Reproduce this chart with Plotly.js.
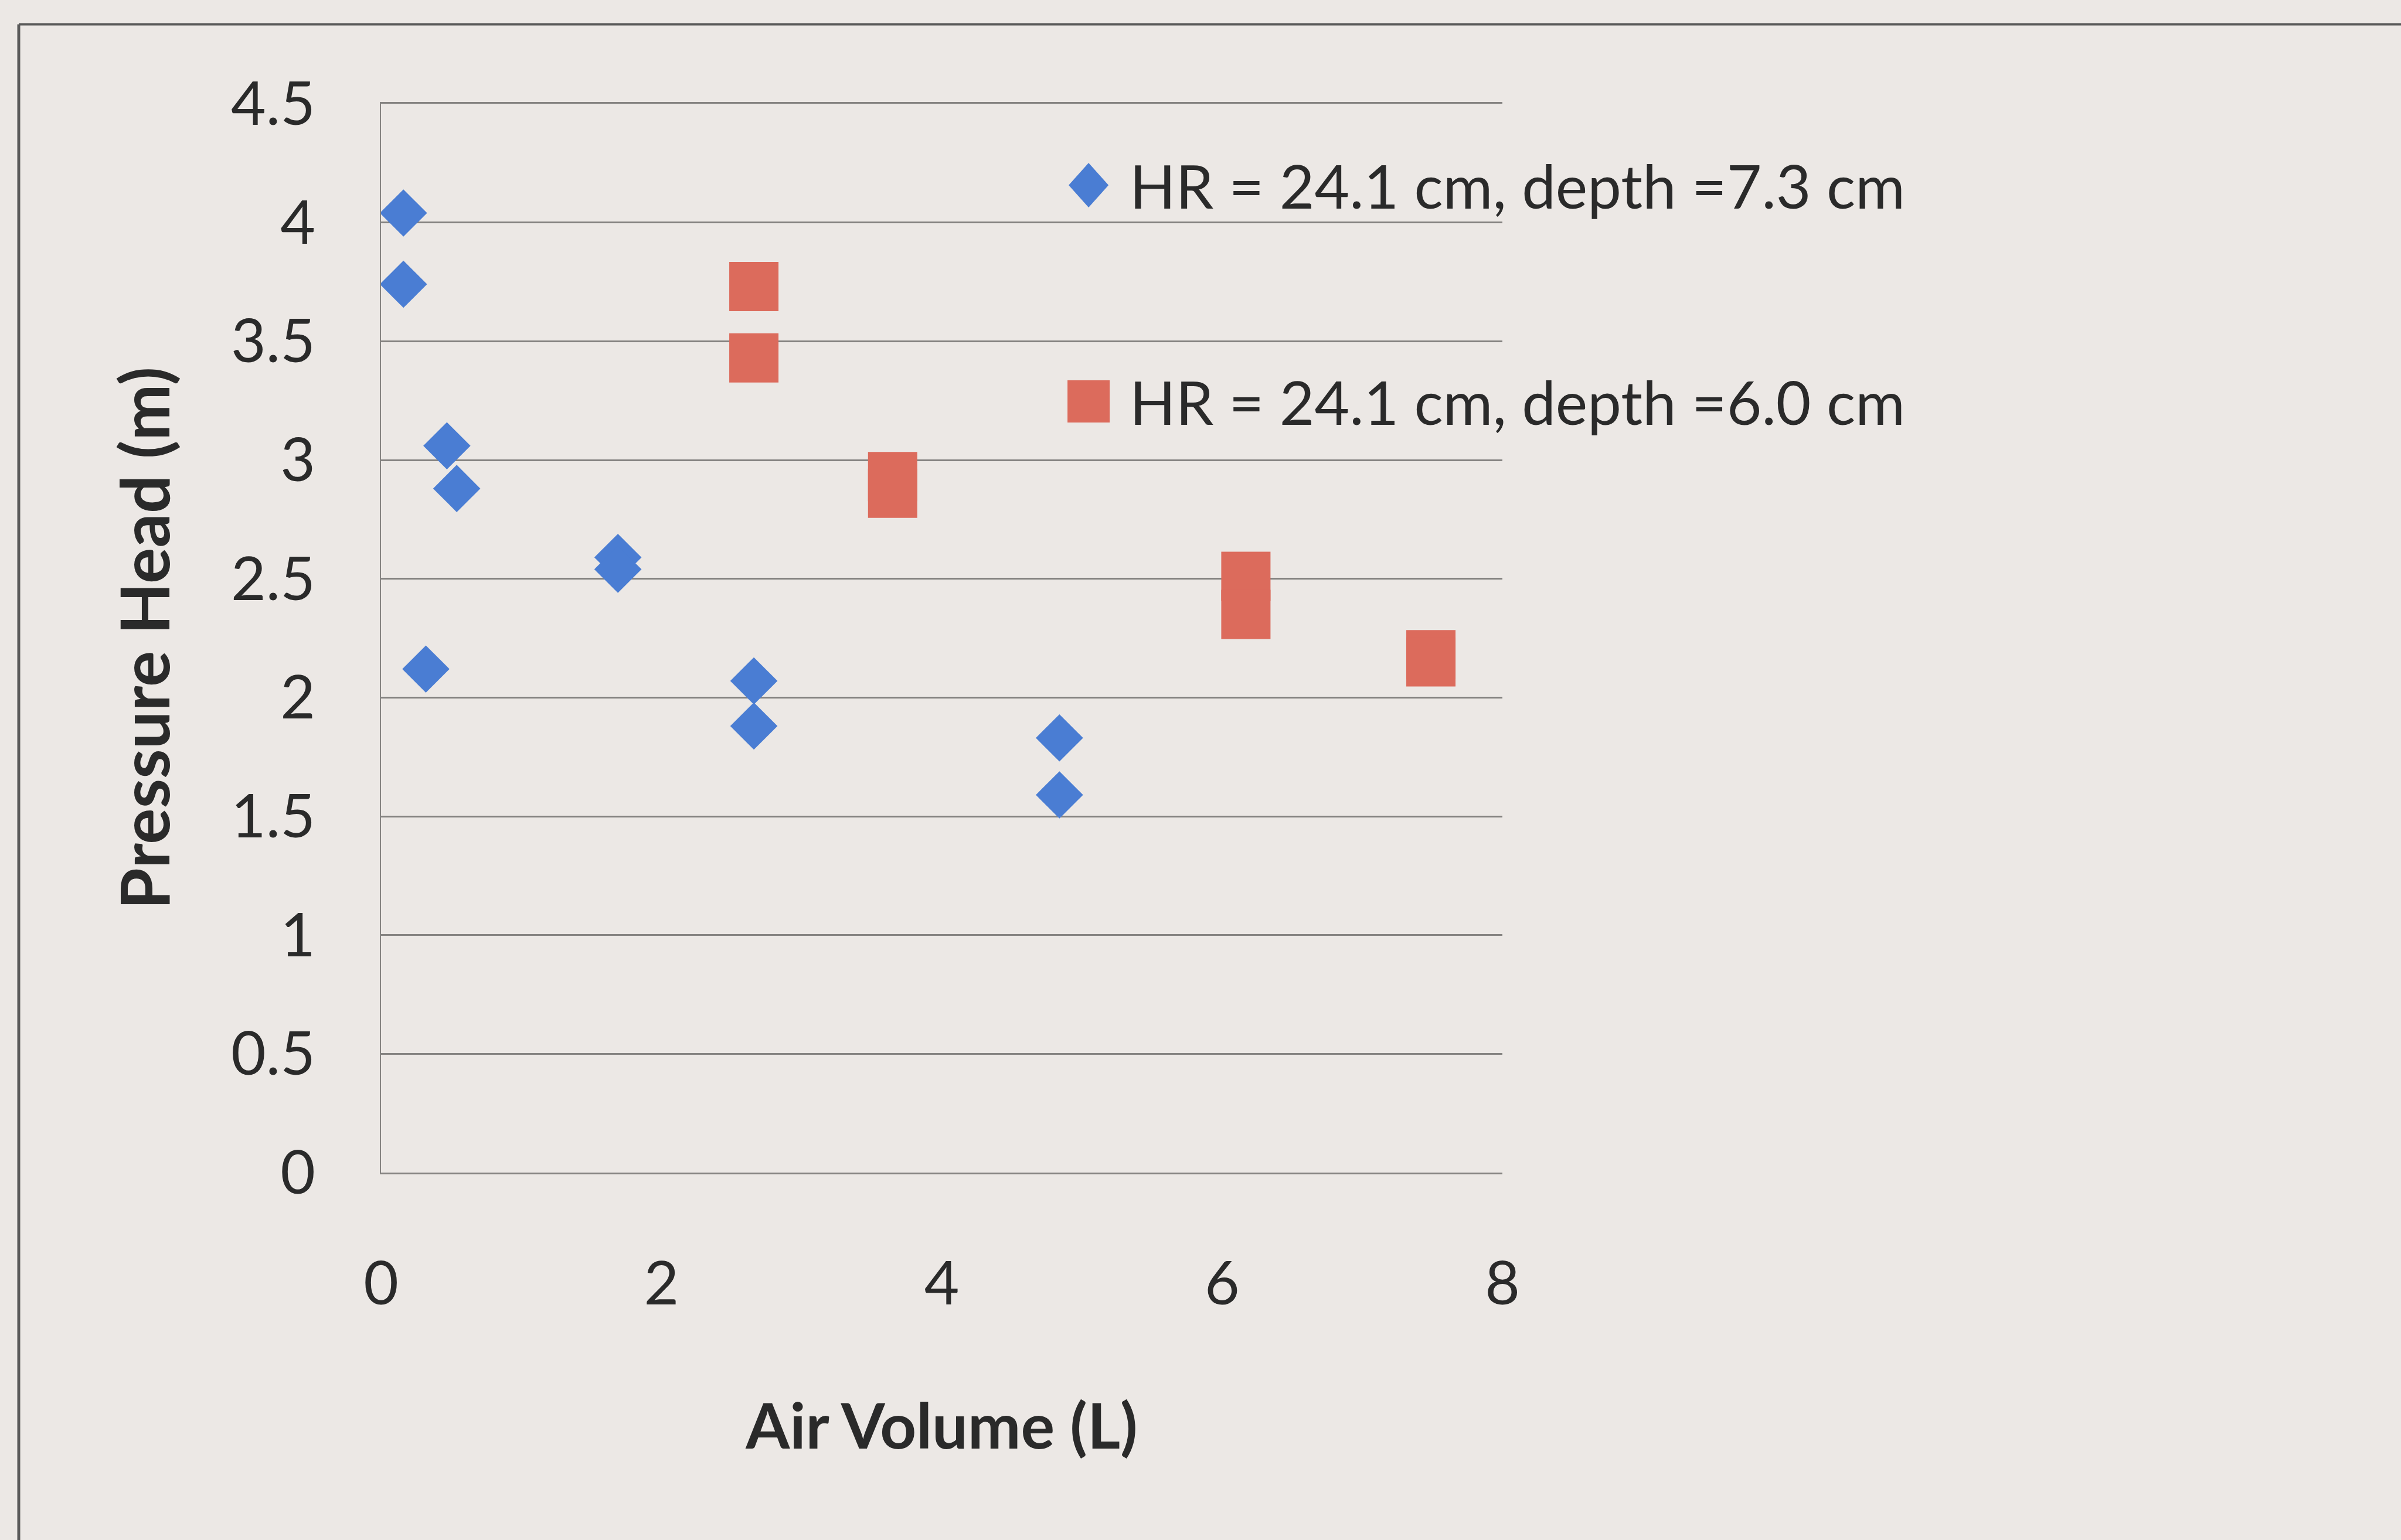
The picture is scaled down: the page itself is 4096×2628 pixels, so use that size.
<!DOCTYPE html>
<html>
<head>
<meta charset="utf-8">
<script src="https://cdn.plot.ly/plotly-3.0.1.min.js"></script>
<style>
  html, body { margin: 0; padding: 0; background: #ece8e5; }
  #chart { width: 4096px; height: 2628px; }
</style>
</head>
<body>
<div id="chart"></div>
<script>
// Air volume (L) vs pressure head (m), two test configurations
const seriesNames = ['HR = 24.1 cm, depth =7.3 cm', 'HR = 24.1 cm, depth =6.0 cm'];

const depth73Volume = [0.16, 0.16, 0.47, 0.54, 1.69, 1.69, 0.32, 2.66, 2.66, 4.84, 4.84];
const depth73Head   = [4.04, 3.74, 3.06, 2.88, 2.59, 2.54, 2.12, 2.07, 1.88, 1.83, 1.59];

const depth60Volume = [2.66, 2.66, 3.65, 3.65, 6.17, 6.17, 7.49, 7.49];
const depth60Head   = [3.73, 3.43, 2.93, 2.86, 2.51, 2.35, 2.18, 2.15];

const xTickVals = [0, 2, 4, 6, 8];
const yTickVals = [0, 0.5, 1, 1.5, 2, 2.5, 3, 3.5, 4, 4.5];

const BLUE = '#4a7dd3';
const RED = '#dc6b5c';
const INK = '#2a2a2a';
const GRID = '#858381';
const FONT = 'Lato, "Open Sans", sans-serif';

const traces = [
  {
    type: 'scatter', mode: 'markers', name: seriesNames[0],
    x: depth73Volume, y: depth73Head,
    marker: { symbol: 'diamond', size: 62, color: BLUE, line: { width: 0 } },
    showlegend: false, cliponaxis: false
  },
  {
    type: 'scatter', mode: 'markers', name: seriesNames[1],
    x: depth60Volume, y: depth60Head,
    marker: { symbol: 'square', size: 84, color: RED, line: { width: 0 } },
    showlegend: false, cliponaxis: false
  }
];

// Legend keys drawn as fixed-pixel shapes next to text labels
const legendX = 0.631, legendTextX = 0.6665;
const legendY = [0.9238, 0.7215];

const layout = {
  width: 4096, height: 2628,
  margin: { l: 650, r: 1533, t: 177, b: 627, autoexpand: false },
  paper_bgcolor: '#ece8e5', plot_bgcolor: '#ece8e5',
  font: { family: FONT, size: 103, color: INK },
  showlegend: false,
  xaxis: {
    range: [0, 8], tickvals: xTickVals, ticktext: xTickVals.map(String),
    showgrid: false, zeroline: false,
    showline: true, mirror: true, linecolor: GRID, linewidth: 3,
    ticks: '', ticklabelstandoff: 98, automargin: false,
    tickfont: { family: FONT, size: 103, color: INK },
    title: { text: 'Air Volume (L)', standoff: 150,
             font: { family: FONT, size: 108, color: INK, weight: 'bold' } }
  },
  yaxis: {
    range: [0, 4.5], tickvals: yTickVals, ticktext: yTickVals.map(String),
    showgrid: true, gridcolor: GRID, gridwidth: 3, zeroline: false,
    showline: true, linecolor: GRID, linewidth: 2.5,
    ticks: '', ticklabelstandoff: 89, automargin: false,
    tickfont: { family: FONT, size: 103, color: INK },
    title: { text: 'Pressure Head (m)', standoff: 66,
             font: { family: FONT, size: 115, color: INK, weight: 'bold' } }
  },
  shapes: [
    // outer chart frame (top and left edges)
    { type: 'line', xref: 'paper', yref: 'paper', x0: -0.32305, x1: 1.9, y0: 1.07429, y1: 1.07429,
      line: { color: '#5a5a5a', width: 4 } },
    { type: 'line', xref: 'paper', yref: 'paper', x0: -0.32305, x1: -0.32305, y0: 1.07429, y1: -0.4,
      line: { color: '#5a5a5a', width: 5 } },
    // legend keys
    { type: 'path', xref: 'paper', yref: 'paper', xsizemode: 'pixel', ysizemode: 'pixel',
      xanchor: legendX, yanchor: legendY[0], path: 'M-34,0L0,38L34,0L0,-38Z',
      fillcolor: BLUE, line: { width: 0 } },
    { type: 'path', xref: 'paper', yref: 'paper', xsizemode: 'pixel', ysizemode: 'pixel',
      xanchor: legendX, yanchor: legendY[1], path: 'M-36,-36L36,-36L36,36L-36,36Z',
      fillcolor: RED, line: { width: 0 } }
  ],
  annotations: seriesNames.map((name, i) => ({
    xref: 'paper', yref: 'paper', x: legendTextX, y: legendY[i],
    xanchor: 'left', yanchor: 'middle', showarrow: false, text: name,
    font: { family: FONT, size: 103, color: INK }
  }))
};

Plotly.newPlot('chart', traces, layout, { staticPlot: true, displayModeBar: false });
</script>
</body>
</html>
